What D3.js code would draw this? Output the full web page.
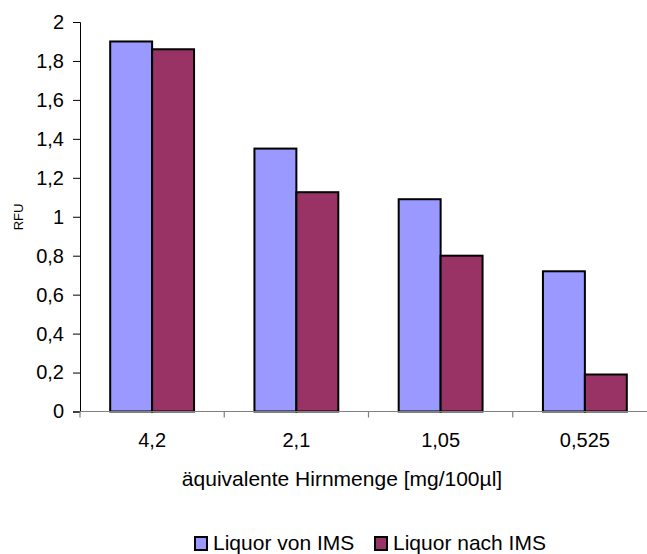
<!DOCTYPE html>
<html>
<head>
<meta charset="utf-8">
<script src="https://cdn.jsdelivr.net/npm/d3@7"></script>
<style>
  body { margin: 0; background: #fff; }
  text { font-family: "Liberation Sans", Arial, sans-serif; fill: #000; }
</style>
</head>
<body>
<svg id="chart" width="647" height="554"></svg>
<script>
// Concentration steps (equivalent brain amount) and RFU per series
const categories = ["4,2", "2,1", "1,05", "0,525"];
const seriesNames = ["Liquor von IMS", "Liquor nach IMS"];
const vonIMS = [1.90, 1.35, 1.09, 0.72];
const nachIMS = [1.86, 1.126, 0.80, 0.19];
const yTicks = [0, 0.2, 0.4, 0.6, 0.8, 1, 1.2, 1.4, 1.6, 1.8, 2];
const colors = ["#9999FF", "#993366"];

const svg = d3.select("#chart");
const plot = { left: 80, right: 657, top: 22, bottom: 411.5 };

const x = d3.scaleBand().domain(categories).range([plot.left, plot.right]).paddingInner(0).paddingOuter(0);
const xs = d3.scaleBand().domain(seriesNames).range([0, x.bandwidth()]).paddingInner(0).paddingOuter(0.72);
const y = d3.scaleLinear().domain([0, 2]).range([plot.bottom, plot.top]);
const fmt = d => String(d).replace(".", ",");

// bars
const series = [vonIMS, nachIMS];
series.forEach((vals, si) => {
  svg.append("g").selectAll("rect").data(vals).join("rect")
    .attr("x", (d, i) => x(categories[i]) + xs(seriesNames[si]))
    .attr("y", d => y(d))
    .attr("width", xs.bandwidth())
    .attr("height", d => y(0) - y(d))
    .attr("fill", colors[si])
    .attr("stroke", "#000")
    .attr("stroke-width", 2);
});

// y axis
const yAxis = svg.append("g").attr("transform", `translate(${plot.left},0)`)
  .call(d3.axisLeft(y).tickValues(yTicks).tickFormat(fmt).tickSize(7).tickPadding(9));
yAxis.select(".domain").attr("stroke", "#000");
yAxis.selectAll(".tick line").attr("stroke", "#000");
yAxis.selectAll("text").style("font-size", "20px").attr("font-family", null);

// x axis with category separators (including one at the left edge)
const xAxisG = svg.append("g").attr("transform", `translate(0,${plot.bottom})`);
xAxisG.append("line").attr("x1", plot.left).attr("x2", plot.right).attr("stroke", "#808080").attr("stroke-width", 1.2);
xAxisG.selectAll("line.tk").data(categories).join("line")
  .attr("class", "tk")
  .attr("x1", d => x(d)).attr("x2", d => x(d))
  .attr("y1", 0).attr("y2", 6).attr("stroke", "#808080").attr("stroke-width", 1.2);
xAxisG.selectAll("text").data(categories).join("text")
  .attr("x", d => x(d) + x.bandwidth() / 2)
  .attr("y", 35)
  .attr("text-anchor", "middle")
  .style("font-size", "20px")
  .text(d => d);

// axis titles
svg.append("text")
  .attr("x", 342).attr("y", 486)
  .attr("text-anchor", "middle")
  .style("font-size", "21px")
  .text("äquivalente Hirnmenge [mg/100µl]");

svg.append("text")
  .attr("transform", "translate(23,217) rotate(-90)")
  .attr("text-anchor", "middle")
  .style("font-size", "13px")
  .text("RFU");

// legend
const legend = svg.append("g");
const legendX = [195, 375];
seriesNames.forEach((name, i) => {
  legend.append("rect")
    .attr("x", legendX[i]).attr("y", 537)
    .attr("width", 12).attr("height", 13)
    .attr("fill", colors[i]).attr("stroke", "#000").attr("stroke-width", 2);
  legend.append("text")
    .attr("x", legendX[i] + 18).attr("y", 550)
    .style("font-size", "21px")
    .text(name);
});
</script>
</body>
</html>
